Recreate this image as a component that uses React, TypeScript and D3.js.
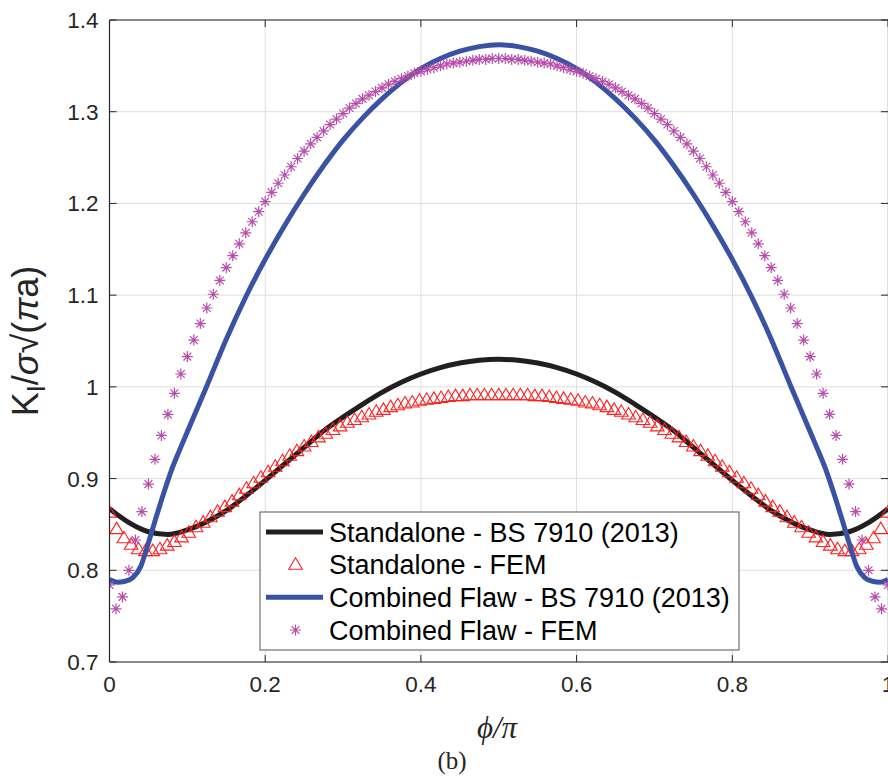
import React from 'react';
import * as d3 from 'd3';

// ---- data ----
const xTicks = [0, 0.2, 0.4, 0.6, 0.8, 1];
const xTickLabels = ['0', '0.2', '0.4', '0.6', '0.8', '1'];
const yTicks = [0.7, 0.8, 0.9, 1.0, 1.1, 1.2, 1.3, 1.4];
const yTickLabels = ['0.7', '0.8', '0.9', '1', '1.1', '1.2', '1.3', '1.4'];

// Standalone - BS 7910 (2013)
const standaloneBSPhi = [0, 0.025, 0.05, 0.075, 0.1, 0.125, 0.15, 0.175, 0.2, 0.225, 0.25, 0.275, 0.3, 0.325, 0.35, 0.375, 0.4, 0.425, 0.45, 0.475, 0.5,
  0.525, 0.55, 0.575, 0.6, 0.625, 0.65, 0.675, 0.7, 0.725, 0.75, 0.775, 0.8, 0.825, 0.85, 0.875, 0.9, 0.925, 0.95, 0.975, 1];
const standaloneBSK = [0.867, 0.852, 0.842, 0.839, 0.844, 0.853, 0.865, 0.881, 0.898, 0.916, 0.934, 0.952, 0.967, 0.981, 0.994, 1.005, 1.014, 1.021, 1.026, 1.029, 1.030,
  1.029, 1.026, 1.021, 1.014, 1.005, 0.994, 0.981, 0.967, 0.952, 0.934, 0.916, 0.898, 0.881, 0.865, 0.853, 0.844, 0.839, 0.842, 0.852, 0.867];

// Combined Flaw - BS 7910 (2013)
const combinedBSPhi = [0, 0.01, 0.02, 0.03, 0.04, 0.05, 0.06, 0.07, 0.08, 0.09, 0.1, 0.125, 0.15, 0.175, 0.2, 0.225, 0.25, 0.275, 0.3, 0.325, 0.35, 0.375, 0.4, 0.425, 0.45, 0.475, 0.5,
  0.525, 0.55, 0.575, 0.6, 0.625, 0.65, 0.675, 0.7, 0.725, 0.75, 0.775, 0.8, 0.825, 0.85, 0.875, 0.9, 0.91, 0.92, 0.93, 0.94, 0.95, 0.96, 0.97, 0.98, 0.99, 1];
const combinedBSK = [0.790, 0.787, 0.788, 0.792, 0.804, 0.830, 0.858, 0.885, 0.910, 0.931, 0.951, 1.001, 1.052, 1.098, 1.139, 1.176, 1.210, 1.241, 1.269, 1.293, 1.314, 1.332, 1.347, 1.358, 1.366, 1.371, 1.373,
  1.371, 1.366, 1.358, 1.347, 1.332, 1.314, 1.293, 1.269, 1.241, 1.210, 1.176, 1.139, 1.098, 1.052, 1.001, 0.951, 0.931, 0.910, 0.885, 0.858, 0.830, 0.804, 0.792, 0.788, 0.787, 0.790];

// Standalone - FEM (equally spaced in phi/pi from 0 to 1)
const standaloneFEM = [0.863, 0.845, 0.835, 0.828, 0.823, 0.821, 0.821, 0.823, 0.827, 0.831, 0.836, 0.841, 0.847, 0.852, 0.858, 0.864, 0.869, 0.875, 0.882, 0.889,
  0.895, 0.901, 0.907, 0.913, 0.919, 0.925, 0.930, 0.935, 0.940, 0.945, 0.949, 0.953, 0.957, 0.961, 0.964, 0.967, 0.970, 0.973, 0.975, 0.978,
  0.980, 0.982, 0.983, 0.985, 0.986, 0.987, 0.988, 0.989, 0.990, 0.990, 0.991, 0.991, 0.991, 0.991, 0.991,
  0.991, 0.991, 0.991, 0.991, 0.990, 0.990, 0.989, 0.988, 0.987, 0.986, 0.985, 0.983, 0.982, 0.980, 0.978, 0.975, 0.973, 0.970, 0.967, 0.964,
  0.961, 0.957, 0.953, 0.949, 0.945, 0.940, 0.935, 0.930, 0.925, 0.919, 0.913, 0.907, 0.901, 0.895, 0.889, 0.882, 0.875, 0.869, 0.864, 0.858,
  0.852, 0.847, 0.841, 0.836, 0.831, 0.827, 0.823, 0.821, 0.821, 0.823, 0.828, 0.835, 0.845, 0.863];

// Combined Flaw - FEM (equally spaced in phi/pi from 0 to 1)
const combinedFEM = [0.784, 0.758, 0.771, 0.800, 0.833, 0.864, 0.894, 0.921, 0.947, 0.970, 0.993, 1.014, 1.033, 1.051, 1.069, 1.086, 1.101, 1.116, 1.130, 1.143,
  1.156, 1.168, 1.180, 1.191, 1.202, 1.212, 1.222, 1.231, 1.240, 1.249, 1.257, 1.265, 1.272, 1.279, 1.286, 1.292, 1.298, 1.304, 1.309, 1.314,
  1.318, 1.322, 1.326, 1.330, 1.333, 1.336, 1.339, 1.342, 1.344, 1.346, 1.348, 1.350, 1.352, 1.353, 1.354, 1.355, 1.356, 1.357, 1.357, 1.358, 1.358,
  1.358, 1.357, 1.357, 1.356, 1.355, 1.354, 1.353, 1.352, 1.350, 1.348, 1.346, 1.344, 1.342, 1.339, 1.336, 1.333, 1.330, 1.326, 1.322, 1.318,
  1.314, 1.309, 1.304, 1.298, 1.292, 1.286, 1.279, 1.272, 1.265, 1.257, 1.249, 1.240, 1.231, 1.222, 1.212, 1.202, 1.191, 1.180, 1.168, 1.156,
  1.143, 1.130, 1.116, 1.101, 1.086, 1.069, 1.051, 1.033, 1.014, 0.993, 0.970, 0.947, 0.921, 0.894, 0.864, 0.833, 0.800, 0.771, 0.758, 0.784];

const legendLabels = ['Standalone - BS 7910 (2013)', 'Standalone - FEM', 'Combined Flaw - BS 7910 (2013)', 'Combined Flaw - FEM'];

// ---- styles ----
const BLACK = '#231f20';
const BLUE = '#3a52a3';
const RED = '#ff2020';
const PURPLE = '#b84dab';
const AXIS = '#262626';
const GRID = '#dedede';
const SANS = '"Liberation Sans", Arial, Helvetica, sans-serif';
const SERIF = '"Liberation Serif", "DejaVu Serif", "Times New Roman", serif';

function triPath(cx: number, cy: number) {
  const w = 6.8, h = 11.5;
  return `M${cx},${cy - h * 0.6}L${cx + w},${cy + h * 0.4}L${cx - w},${cy + h * 0.4}Z`;
}

function Star({ cx, cy, r = 5.5 }: { cx: number; cy: number; r?: number }) {
  const d = r * 0.7071;
  return (
    <path
      d={`M${cx - r},${cy}L${cx + r},${cy}M${cx},${cy - r}L${cx},${cy + r}M${cx - d},${cy - d}L${cx + d},${cy + d}M${cx - d},${cy + d}L${cx + d},${cy - d}`}
      stroke={PURPLE}
      strokeWidth={1.2}
      fill="none"
    />
  );
}

export default function App() {
  const x = d3.scaleLinear().domain([0, 1]).range([109.5, 888]);
  const y = d3.scaleLinear().domain([0.7, 1.4]).range([662, 20]);

  const line = d3
    .line<[number, number]>()
    .x((d) => x(d[0]))
    .y((d) => y(d[1]))
    .curve(d3.curveMonotoneX);

  const blackPts = standaloneBSPhi.map((p, i) => [p, standaloneBSK[i]] as [number, number]);
  const bluePts = combinedBSPhi.map((p, i) => [p, combinedBSK[i]] as [number, number]);
  const redPts = standaloneFEM.map((v, i) => [i / (standaloneFEM.length - 1), v]);
  const starPts = combinedFEM.map((v, i) => [i / (combinedFEM.length - 1), v]);

  const x0 = x(0), x1 = x(1), yTop = y(1.4), yBot = y(0.7);

  const legendX = 260, legendY = 512, legendW = 479, legendH = 138;
  const rowY = [532, 564.7, 597.3, 630];

  return (
    <svg
      width={888}
      height={776}
      style={{ position: 'absolute', left: 0, top: 0, background: '#fff' }}
      fontFamily={SANS}
    >
      <rect x={0} y={0} width={888} height={776} fill="#fff" />
      {/* grid */}
      {xTicks.map((t) => (
        <line key={'gx' + t} x1={Math.min(x(t), 887.5)} x2={Math.min(x(t), 887.5)} y1={yTop} y2={yBot} stroke={GRID} strokeWidth={1} />
      ))}
      {yTicks.map((t) => (
        <line key={'gy' + t} x1={x0} x2={x1} y1={y(t)} y2={y(t)} stroke={GRID} strokeWidth={1} />
      ))}

      {/* data */}
      <defs>
        <clipPath id="plotclip">
          <rect x={x0} y={yTop - 10} width={x1 - x0 + 10} height={yBot - yTop + 10} />
        </clipPath>
      </defs>
      <g clipPath="url(#plotclip)">
        <path d={line(blackPts) || ''} fill="none" stroke={BLACK} strokeWidth={5} />
        {redPts.map((p, i) => (
          <path key={'r' + i} d={triPath(x(p[0]), y(p[1]))} fill="none" stroke={RED} strokeWidth={1.1} />
        ))}
        <path d={line(bluePts) || ''} fill="none" stroke={BLUE} strokeWidth={5} />
        {starPts.map((p, i) => (
          <Star key={'s' + i} cx={x(p[0])} cy={y(p[1])} />
        ))}
      </g>

      {/* axes box */}
      <line x1={x0} x2={x0} y1={yTop} y2={yBot} stroke={AXIS} strokeWidth={1.2} />
      <line x1={x0} x2={x1} y1={yBot} y2={yBot} stroke={AXIS} strokeWidth={1.2} />
      <line x1={x0} x2={x1} y1={yTop} y2={yTop} stroke={AXIS} strokeWidth={1.2} />
      {/* ticks */}
      {xTicks.map((t) => (
        <g key={'tx' + t}>
          <line x1={x(t)} x2={x(t)} y1={yBot} y2={yBot - 7} stroke={AXIS} strokeWidth={1} />
          <line x1={x(t)} x2={x(t)} y1={yTop} y2={yTop + 7} stroke={AXIS} strokeWidth={1} />
        </g>
      ))}
      {yTicks.map((t) => (
        <g key={'ty' + t}>
          <line x1={x0} x2={x0 + 7} y1={y(t)} y2={y(t)} stroke={AXIS} strokeWidth={1} />
          <line x1={x1} x2={x1 - 7} y1={y(t)} y2={y(t)} stroke={AXIS} strokeWidth={1} />
        </g>
      ))}
      {/* tick labels */}
      {xTicks.map((t, i) => (
        <text key={'lx' + t} x={x(t)} y={692} textAnchor="middle" fontSize={22.5} fill={AXIS}>
          {xTickLabels[i]}
        </text>
      ))}
      {yTicks.map((t, i) => (
        <text key={'ly' + t} x={98.5} y={y(t) + 8} textAnchor="end" fontSize={22.5} fill={AXIS}>
          {yTickLabels[i]}
        </text>
      ))}

      {/* y label */}
      <text transform={`translate(38,${(yTop + yBot) / 2}) rotate(-90)`} textAnchor="middle" fontSize={36} fill={AXIS}>
        <tspan>K</tspan>
        <tspan fontSize={25} dy={7}>I</tspan>
        <tspan dy={-7}>/</tspan>
        <tspan fontStyle="italic">σ</tspan>
        <tspan>√(</tspan>
        <tspan fontStyle="italic">π</tspan>
        <tspan>a)</tspan>
      </text>

      {/* x label */}
      <text x={497} y={738} textAnchor="middle" fontSize={31} fontFamily={SERIF} fontStyle="italic" fill={AXIS}>
        ϕ/π
      </text>
      <text x={452} y={769} textAnchor="middle" fontSize={25} fontFamily={SERIF} fill={AXIS}>
        (b)
      </text>

      {/* legend */}
      <rect x={legendX} y={legendY} width={legendW} height={legendH} fill="#fff" stroke="#555" strokeWidth={1} />
      <line x1={266} x2={323} y1={rowY[0]} y2={rowY[0]} stroke={BLACK} strokeWidth={5} />
      <path d={triPath(295.5, rowY[1])} fill="none" stroke={RED} strokeWidth={1.1} />
      <line x1={266} x2={323} y1={rowY[2]} y2={rowY[2]} stroke={BLUE} strokeWidth={5} />
      <Star cx={295.5} cy={rowY[3]} />
      {legendLabels.map((l, i) => (
        <text key={l} x={329} y={rowY[i] + 9.5} fontSize={27} fill="#000">
          {l}
        </text>
      ))}
    </svg>
  );
}
